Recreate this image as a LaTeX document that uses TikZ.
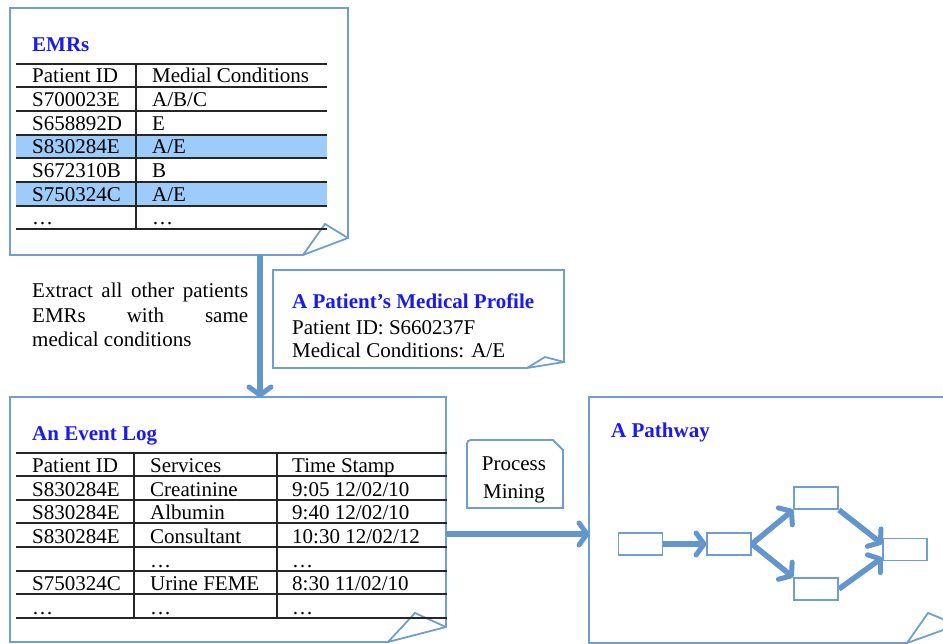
\documentclass[tikz,border=0pt]{standalone}
\usepackage{fontspec}
\setmainfont{Liberation Serif}
\usetikzlibrary{arrows.meta,calc,decorations.markings}
\definecolor{framec}{RGB}{112,158,208}
\definecolor{ttl}{RGB}{25,25,240}
\definecolor{hl}{RGB}{157,203,250}
\definecolor{arr}{RGB}{98,150,204}
\tikzset{
 framebox/.style={draw=framec, line width=1.8pt, line join=miter},
 area/.style={draw=none, inner sep=0pt, anchor=north west},
 cell/.style={anchor=base west, inner sep=0pt, font=\fontsize{21}{24}\selectfont},
 ttlnode/.style={anchor=base west, inner sep=0pt, font=\fontsize{21}{24}\selectfont\bfseries, text=ttl},
 rule/.style={line width=1.2pt, black!85},
 bigarrow/.style={draw=arr, line width=5.5pt, shorten >=2pt,
   postaction={decorate},
   decoration={markings, mark=at position 1 with {
     \draw[arr, line width=5pt, line cap=round, line join=round, shorten >=0pt]
       (-10pt,11pt) -- (-2pt,0pt) -- (-10pt,-11pt);}}},
 pbox/.style={draw=framec, line width=1.9pt, fill=white, minimum width=44pt, minimum height=22pt, inner sep=0pt},
}
\begin{document}
\begin{tikzpicture}[x=1pt,y=-1pt]
\useasboundingbox (0,0) rectangle (943,644);
\clip (0,0) rectangle (943,644);
% ---------- EMRs box ----------
\node[area, minimum width=338pt, minimum height=247pt] (emr) at (10,8) {};
\draw[framebox] (10,8) -- (348,8) -- (348,238) -- (303,255) -- (10,255) -- cycle;
\draw[framebox] (348,238) -- (325,224) -- (303,255);
\fill[hl] (16,135) rectangle (327,158);
\fill[hl] (16,182) rectangle (327,206);
\foreach \yy in {64,87,111,135,158,182,206,229} \draw[rule] (16,\yy) -- (327,\yy);
\draw[rule] (136,64) -- (136,229);
\node[ttlnode] (emrT) at (32,52) {EMRs};
\node[cell] (e11) at (32,83) {Patient ID};
\node[cell] (e12) at (152,83) {Medial Conditions};
\node[cell] (e21) at (32,107) {S700023E};
\node[cell] (e22) at (152,107) {A/B/C};
\node[cell] (e31) at (32,131) {S658892D};
\node[cell] (e32) at (152,131) {E};
\node[cell] (e41) at (32,154) {S830284E};
\node[cell] (e42) at (152,154) {A/E};
\node[cell] (e51) at (32,178) {S672310B};
\node[cell] (e52) at (152,178) {B};
\node[cell] (e61) at (32,202) {S750324C};
\node[cell] (e62) at (152,202) {A/E};
\node[cell] (e71) at (32,225) {\dots};
\node[cell] (e72) at (152,225) {\dots};
% ---------- Extract text ----------
\node[cell] (x1) at (32,298) {\makebox[216pt][s]{Extract all other patients}};
\node[cell] (x2) at (32,323) {\makebox[216pt][s]{EMRs with same}};
\node[cell] (x3) at (32,347) {medical conditions};
% ---------- Profile box ----------
\node[area, minimum width=291pt, minimum height=98pt] (prof) at (273,270) {};
\draw[framebox] (273,270) -- (564,270) -- (564,362) -- (527,368) -- (273,368) -- cycle;
\draw[framebox] (564,362) -- (545,357) -- (527,368);
\node[ttlnode] (profT) at (292,309) {A Patient’s Medical Profile};
\node[cell] (p1) at (292,335) {Patient ID: S660237F};
\node[cell] (p2) at (292,358) {Medical Conditions: A/E};
% ---------- Event log box ----------
\node[area, minimum width=436pt, minimum height=246pt] (log) at (10,397) {};
\draw[framebox] (10,397) -- (446,397) -- (446,627) -- (388,642) -- (10,642) -- cycle;
\draw[framebox] (446,627) -- (415,613) -- (388,642);
\foreach \yy in {453,476,500,523,547,571,594,618} \draw[rule] (16,\yy) -- (447,\yy);
\draw[rule] (134,453) -- (134,618);
\draw[rule] (277,453) -- (277,618);
\node[ttlnode] (logT) at (32,440) {An Event Log};
\node[cell] (l11) at (32,472) {Patient ID};
\node[cell] (l12) at (150,472) {Services};
\node[cell] (l13) at (292,472) {Time Stamp};
\node[cell] (l21) at (32,496) {S830284E};
\node[cell] (l22) at (150,496) {Creatinine};
\node[cell] (l23) at (292,496) {9:05 12/02/10};
\node[cell] (l31) at (32,519) {S830284E};
\node[cell] (l32) at (150,519) {Albumin};
\node[cell] (l33) at (292,519) {9:40 12/02/10};
\node[cell] (l41) at (32,543) {S830284E};
\node[cell] (l42) at (150,543) {Consultant};
\node[cell] (l43) at (292,543) {10:30 12/02/12};
\node[cell] (l52) at (150,567) {\dots};
\node[cell] (l53) at (292,567) {\dots};
\node[cell] (l61) at (32,590) {S750324C};
\node[cell] (l62) at (150,590) {Urine FEME};
\node[cell] (l63) at (292,590) {8:30 11/02/10};
\node[cell] (l71) at (32,614) {\dots};
\node[cell] (l72) at (150,614) {\dots};
\node[cell] (l73) at (292,614) {\dots};
% ---------- Process mining ----------
\draw[framebox, fill=white] (467,508) -- (467,448) .. controls (467,440) .. (475,440) -- (553,440) -- (563,450) -- (563,508) -- cycle;
\node[cell, anchor=base] (pm1) at (514,470) {Process};
\node[cell, anchor=base] (pm2) at (514,498) {Mining};
% ---------- Pathway box ----------
\node[area, minimum width=354pt, minimum height=246pt] (path) at (589,397) {};
\draw[framebox] (960,397) -- (589,397) -- (589,643) -- (907,643) -- (960,624);
\draw[framebox] (907,643) -- (928,613) -- (960,626);
\node[ttlnode] (pathT) at (611,438) {A Pathway};
\node[pbox] (b1) at (640.5,544) {};
\node[pbox] (b2) at (729,544) {};
\node[pbox] (b3) at (816,498) {};
\node[pbox] (b4) at (816,589) {};
\node[pbox] (b5) at (905,549.5) {};
\draw[bigarrow] (b1.east) -- (b2.west);
\draw[bigarrow] (b2.east) -- (b3.south west);
\draw[bigarrow] (b2.east) -- (b4.north west);
\draw[bigarrow] (b3.south east) -- (b5.166);
\draw[bigarrow] (b4.east) -- (b5.200);
% ---------- main arrows ----------
\coordinate (vx) at (260,0);
\coordinate (hy) at (0,534);
\draw[bigarrow] (emr.south -| vx) -- (log.north -| vx);
\draw[bigarrow] (log.east |- hy) -- (path.west |- hy);
\end{tikzpicture}
\end{document}
